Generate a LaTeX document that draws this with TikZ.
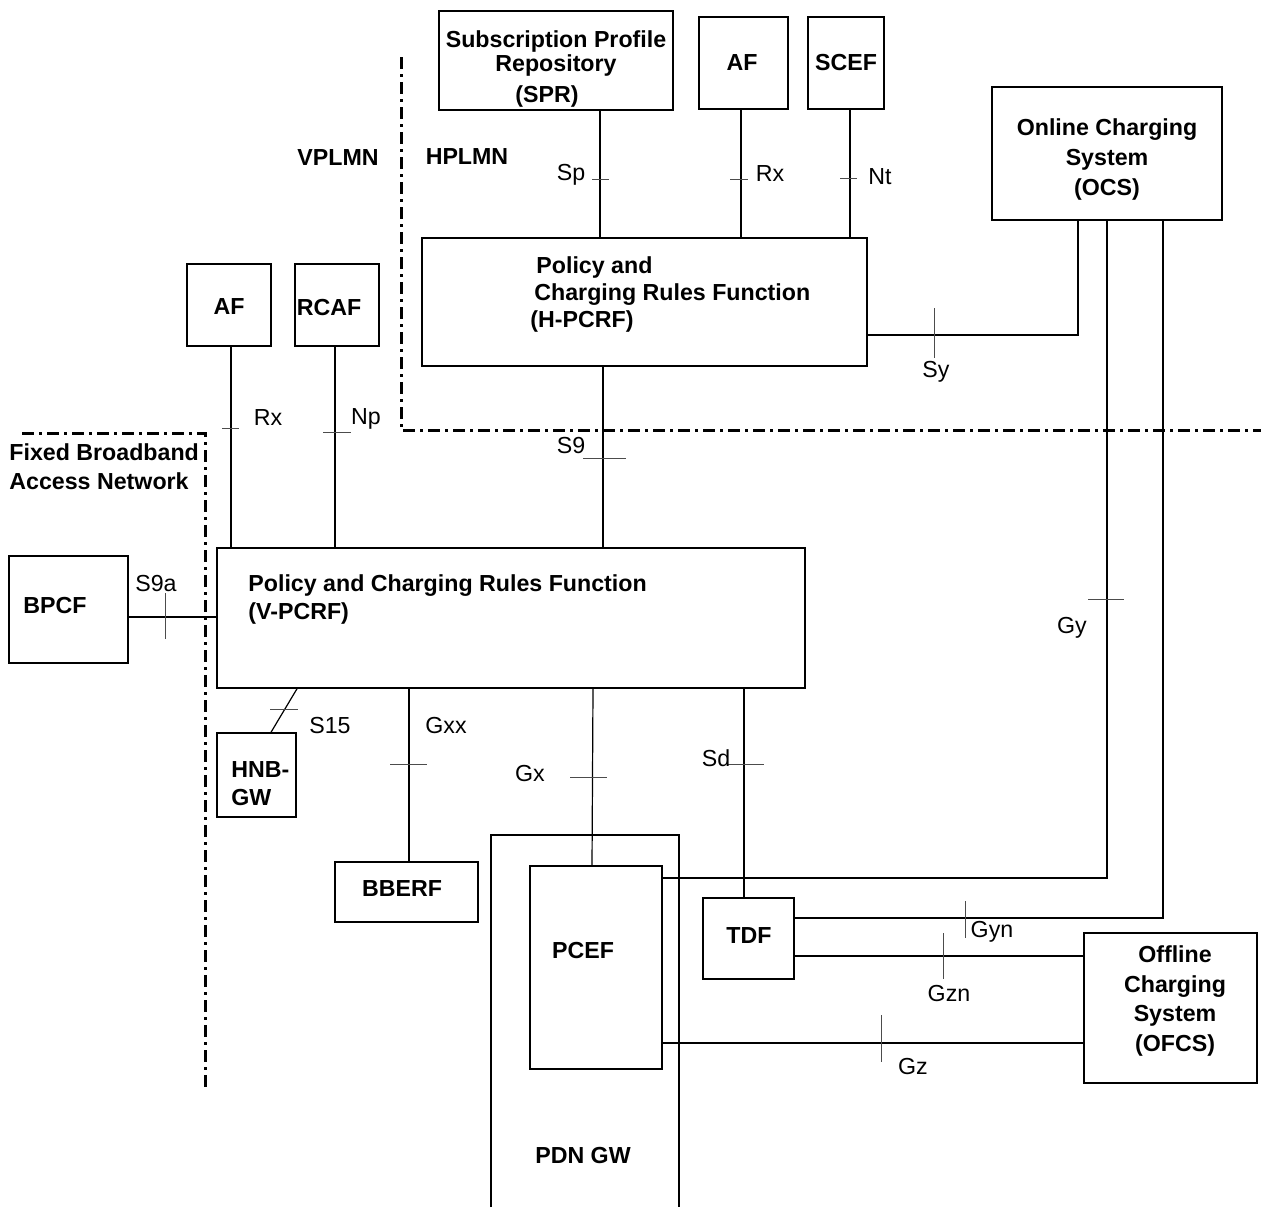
\documentclass[tikz,border=0pt]{standalone}
\usepackage{fontspec}
\setmainfont{Liberation Sans}
\usetikzlibrary{fit}
\tikzset{
  box/.style={draw,line width=0.75pt,inner sep=0pt},
  txt/.style={inner sep=0pt,font=\bfseries\fontsize{11.6}{15}\selectfont},
  lbl/.style={inner sep=0pt,font=\fontsize{11.6}{14}\selectfont},
  link/.style={line width=0.6pt},
  tick/.style={line width=0.5pt,black!70},
  border/.style={line width=1.5pt,dash pattern=on 6pt off 2.5pt on 1.5pt off 2.5pt},
}

\begin{document}
\begin{tikzpicture}[x=0.5pt,y=-0.5pt]
\useasboundingbox (0,0) rectangle (1261,1207);

\node[box,fit={(439,11) (673,110)}] (spr) {};
\node[txt,align=center,font=\bfseries\fontsize{11.6}{9.5}\selectfont] (spr-name) at (556,53.5) {Subscription Profile\\Repository};
\node[txt] (spr-abbr) at (547,96) {(SPR)};
\node[box,fit={(699,17) (788,109)}] (afh) {};
\node[txt] (afh-name) at (742,63) {AF};
\node[box,fit={(808,17) (884,109)}] (scef) {};
\node[txt] (scef-name) at (846,63) {SCEF};
\node[box,fit={(992,87) (1222,220)}] (ocs) {};
\node[txt,align=center] (ocs-name) at (1107,159) {Online Charging\\System\\(OCS)};

\node[box,fit={(422,238) (867,366)}] (hpcrf) {};
\node[txt,align=left,anchor=west,font=\bfseries\fontsize{11.6}{13.5}\selectfont] (hpcrf-name) at (530,294) {\hspace{3pt}Policy and\\\hspace{2pt}Charging Rules Function\\(H-PCRF)};

\node[box,fit={(187,264) (271,346)}] (afv) {};
\node[txt] (afv-name) at (229,307) {AF};
\node[box,fit={(295,264) (379,346)}] (rcaf) {};
\node[txt] (rcaf-name) at (329,307) {RCAF};

\node[box,fit={(217,548) (805,688)}] (vpcrf) {};
\node[txt,align=left,anchor=west,font=\bfseries\fontsize{11.6}{14}\selectfont] (vpcrf-name) at (248,599) {Policy and Charging Rules Function\\(V-PCRF)};

\node[box,fit={(9,556) (128,663)}] (bpcf) {};
\node[txt] (bpcf-name) at (55,605) {BPCF};
\node[box,fit={(217,733) (296,817)}] (hnbgw) {};
\node[txt,align=left,anchor=west,font=\bfseries\fontsize{11.6}{14}\selectfont] (hnbgw-name) at (231,784) {HNB-\\GW};
\node[box,fit={(335,862) (478,922)}] (bberf) {};
\node[txt] (bberf-name) at (402,888) {BBERF};

\draw[line width=0.75pt] (491,1207) |- (679,835) -- (679,1207);
\node[txt] (pdngw) at (583,1155) {PDN GW};
\node[box,fit={(530,866) (662,1069)}] (pcef) {};
\node[txt] (pcef-name) at (583,950) {PCEF};
\node[box,fit={(703,898) (794,979)}] (tdf) {};
\node[txt] (tdf-name) at (749,935) {TDF};
\node[box,fit={(1084,933) (1257,1083)}] (ofcs) {};
\node[txt,align=center,font=\bfseries\fontsize{11.6}{14.7}\selectfont] (ofcs-name) at (1175,1001) {Offline\\Charging\\System\\(OFCS)};

\node[txt] (vplmn) at (338,158) {VPLMN};
\node[txt] (hplmn) at (467,157) {HPLMN};
\node[txt,align=left,anchor=west,font=\bfseries\fontsize{11.6}{14.5}\selectfont] (fban) at (9,467) {Fixed Broadband\\Access Network};

\draw[border] (401,57) |- (1261,430);
\draw[border] (22,433) -| (205,1087);

\draw[link] (600,0 |- spr.south) -- (600,0 |- hpcrf.north);
\draw[link] (741,0 |- afh.south) -- (741,0 |- hpcrf.north);
\draw[link] (850,0 |- scef.south) -- (850,0 |- hpcrf.north);
\draw[link] (hpcrf.east |- 0,335) -| (1078,0 |- ocs.south);
\draw[link] (603,0 |- hpcrf.south) -- (603,0 |- vpcrf.north);
\draw[link] (231,0 |- afv.south) -- (231,0 |- vpcrf.north);
\draw[link] (335,0 |- rcaf.south) -- (335,0 |- vpcrf.north);
\draw[link] (bpcf.east |- 0,617) -- (vpcrf.west |- 0,617);
\draw[link] (297,0 |- vpcrf.south) -- (271,0 |- hnbgw.north);
\draw[link] (409,0 |- vpcrf.south) -- (409,0 |- bberf.north);
\draw[link] (593,0 |- vpcrf.south) -- (592,0 |- pcef.north);
\draw[link] (744,0 |- vpcrf.south) -- (744,0 |- tdf.north);
\draw[link] (pcef.east |- 0,878) -| (1107,0 |- ocs.south);
\draw[link] (tdf.east |- 0,918) -| (1163,0 |- ocs.south);
\draw[link] (tdf.east |- 0,956) -- (ofcs.west |- 0,956);
\draw[link] (pcef.east |- 0,1043) -- (ofcs.west |- 0,1043);

\draw[tick] (592,179) -- (609,179);
\draw[tick] (730,179) -- (748,179);
\draw[tick] (840,178) -- (857,178);
\draw[tick] (934,308) -- (934,358);
\draw[tick] (583,458) -- (626,458);
\draw[tick] (222,428) -- (239,428);
\draw[tick] (323,432) -- (351,432);
\draw[tick] (165,593) -- (165,639);
\draw[tick] (270,709) -- (298,709);
\draw[tick] (390,764) -- (427,764);
\draw[tick] (570,777) -- (607,777);
\draw[tick] (728,764) -- (764,764);
\draw[tick] (1088,599) -- (1124,599);
\draw[tick] (965,901) -- (965,938);
\draw[tick] (943,933) -- (943,979);
\draw[tick] (881,1015) -- (881,1062);

\node[lbl] (sp) at (571,175) {Sp};
\node[lbl] (rx-h) at (770,174) {Rx};
\node[lbl] (nt) at (880,177) {Nt};
\node[lbl] (sy) at (936,372) {Sy};
\node[lbl] (s9) at (571,445) {S9};
\node[lbl] (rx-v) at (268,418) {Rx};
\node[lbl] (np) at (366,419) {Np};
\node[lbl] (s9a) at (156,583) {S9a};
\node[lbl] (s15) at (330,725) {S15};
\node[lbl] (gxx) at (446,725) {Gxx};
\node[lbl] (gx) at (530,773) {Gx};
\node[lbl] (sd) at (716,758) {Sd};
\node[lbl] (gy) at (1072,628) {Gy};
\node[lbl] (gyn) at (992,932) {Gyn};
\node[lbl] (gzn) at (949,993) {Gzn};
\node[lbl] (gz) at (913,1066) {Gz};
\end{tikzpicture}
\end{document}
